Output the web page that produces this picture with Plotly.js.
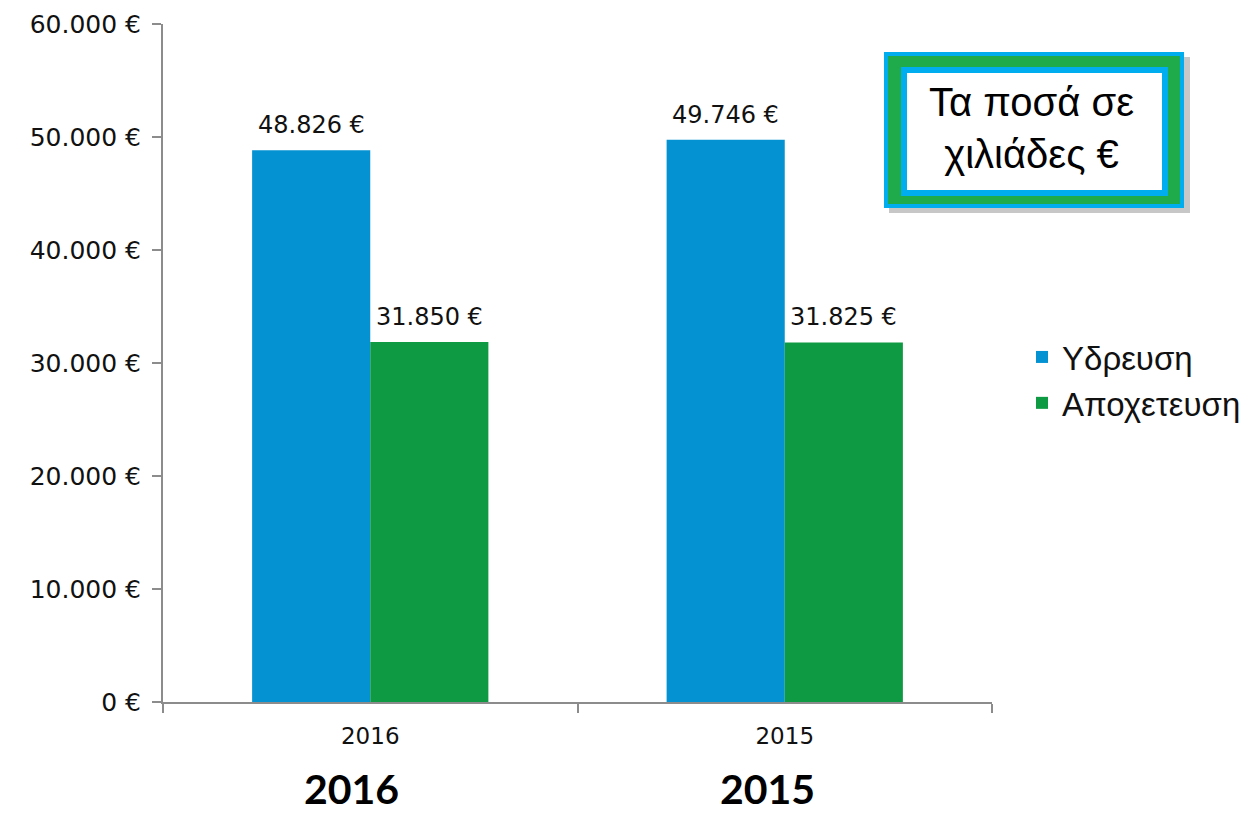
<!DOCTYPE html>
<html>
<head>
<meta charset="utf-8">
<script src="https://cdn.plot.ly/plotly-3.0.1.min.js"></script>
<style>html,body{margin:0;padding:0;background:#fff;}#chart{width:1258px;height:815px;}</style>
</head>
<body>
<div id="chart"></div>
<script>
const categories = ["2016", "2015"];
const seriesNames = ["Υδρευση", "Αποχετευση"];
const water = [48826, 49746];
const sewage = [31850, 31825];
const boxText = "Τα ποσά σε<br>χιλιάδες €";
const bottomLabels = ["2016", "2015"];

const W = 1258, H = 815;
const M = {l: 163, r: 266, t: 24, b: 113};
const pw = W - M.l - M.r, ph = H - M.t - M.b;
const px = x => (x - M.l) / pw;
const py = y => (H - M.b - y) / ph;

const font = "'DejaVu Sans', sans-serif";
const bargap = 0.43;
const seriesColors = ["#0492D2", "#0E9A43"];
const seriesData = [water, sewage];

const traces = seriesData.map((vals, i) => ({
  type: "bar", name: seriesNames[i], x: categories, y: vals,
  marker: {color: seriesColors[i]}, hoverinfo: "none"
}));

// value labels placed above each bar (bar centres derived from bargap)
const barW = (1 - bargap) / seriesData.length;
const valueAnnotations = [];
seriesData.forEach((vals, i) => {
  vals.forEach((v, j) => {
    valueAnnotations.push({
      xref: "x", yref: "y", x: j - (1 - bargap) / 2 + barW * (i + 0.5), y: v,
      text: v.toLocaleString("de-DE") + " €", showarrow: false,
      yanchor: "bottom", yshift: 9, font: {size: 24, color: "#111", family: font}
    });
  });
});

function rect(x0, y0, x1, y1, fill) {
  return {type: "rect", xref: "paper", yref: "paper",
    x0: px(x0), x1: px(x1), y0: py(y1), y1: py(y0), fillcolor: fill,
    line: {width: 0}, layer: "above"};
}

const shapes = [
  rect(889, 57, 1190, 213, "rgba(0,0,0,0.22)"),
  rect(884, 52, 1184, 208, "#00AEEF"),
  rect(888, 56, 1180, 204, "#1FAA4B"),
  rect(901, 67, 1168, 196, "#00AEEF"),
  rect(907, 73, 1162, 190, "#ffffff")
];

const layout = {
  width: W, height: H,
  margin: M,
  paper_bgcolor: "#fff", plot_bgcolor: "#fff",
  font: {family: font, color: "#111"},
  separators: ",.",
  barmode: "group",
  bargap: bargap, bargroupgap: 0,
  showlegend: true,
  hovermode: false,
  legend: {x: px(1022), y: py(380), xanchor: "left", yanchor: "middle",
           font: {size: 33, color: "#111", family: "'Liberation Sans', Arial, sans-serif"},
           tracegroupgap: 0, bgcolor: "rgba(0,0,0,0)"},
  xaxis: {type: "category", showline: true, linecolor: "#8c8c8c", linewidth: 2,
          ticks: "outside", tickson: "boundaries", ticklen: 9, tickcolor: "#8c8c8c", tickwidth: 2,
          ticklabelstandoff: 12,
          tickfont: {size: 23, color: "#111"}, showgrid: false, zeroline: false},
  yaxis: {range: [0, 60000], dtick: 10000, tickformat: ",.0f", ticksuffix: " €",
          showline: true, linecolor: "#8c8c8c", linewidth: 2,
          ticks: "outside", ticklen: 9, tickcolor: "#8c8c8c", tickwidth: 2,
          ticklabelstandoff: 6,
          tickfont: {size: 25, color: "#111"}, showgrid: false, zeroline: false},
  shapes: shapes,
  annotations: valueAnnotations.concat([
    {xref: "paper", yref: "paper", x: px(1031), y: py(128), text: boxText,
     showarrow: false, font: {size: 40, color: "#000", family: "'Liberation Sans', Arial, sans-serif"},
     align: "center", xanchor: "center", yanchor: "middle"},
    {xref: "x", yref: "paper", x: 0, xshift: -19, y: py(815), text: "<b>" + bottomLabels[0] + "</b>",
     showarrow: false, font: {size: 41, color: "#000", family: "Lato, sans-serif"}, yanchor: "bottom"},
    {xref: "x", yref: "paper", x: 1, xshift: -17, y: py(815), text: "<b>" + bottomLabels[1] + "</b>",
     showarrow: false, font: {size: 41, color: "#000", family: "Lato, sans-serif"}, yanchor: "bottom"}
  ])
};

Plotly.newPlot("chart", traces, layout, {displayModeBar: false, responsive: false});
</script>
</body>
</html>
